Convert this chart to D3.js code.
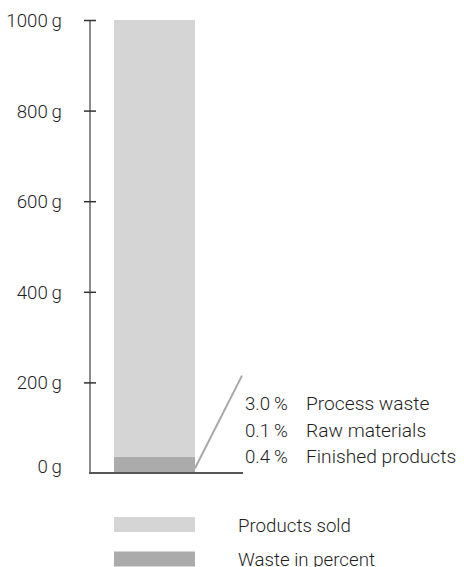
<!DOCTYPE html>
<html>
<head>
<meta charset="utf-8">
<script src="https://cdn.jsdelivr.net/npm/d3@7"></script>
<style>
  html, body { margin: 0; padding: 0; background: #fff; }
  svg { display: block; font-family: Roboto, "Noto Sans", sans-serif; font-weight: 300; }
</style>
</head>
<body>
<svg id="chart" width="464" height="567"></svg>
<script>
// Mass balance of 1000 g of product: what is sold and what is wasted
const yTicks = [0, 200, 400, 600, 800, 1000];
const tickLabels = ["0\u2009g", "200\u2009g", "400\u2009g", "600\u2009g", "800\u2009g", "1000\u2009g"];
const totalGrams = 1000;
const wasteCategories = ["Process waste", "Raw materials", "Finished products"];
const wastePercent = [3.0, 0.1, 0.4];
const percentLabels = ["3.0\u2009%", "0.1\u2009%", "0.4\u2009%"];
const legendLabels = ["Products sold", "Waste in percent"];

const colSold = "#d5d5d5";
const colWaste = "#ababab";
const textCol = "#1e1e1e";
const fontSize = 18.7;

const svg = d3.select("#chart");

const y = d3.scaleLinear().domain([0, totalGrams]).range([473, 20]);
const x = d3.scaleBand().domain(["total"]).range([114, 195]).padding(0);
const axisX = 90;
const baselineEnd = 243;

// stacked segments: waste categories at the bottom, products sold on top
const wasteGrams = wastePercent.map(p => p / 100 * totalGrams);
const wasteTotal = d3.sum(wasteGrams);
const segments = [];
let acc = 0;
wasteCategories.forEach((c, i) => {
  segments.push({ name: c, y0: acc, y1: acc + wasteGrams[i], color: colWaste });
  acc += wasteGrams[i];
});
segments.push({ name: legendLabels[0], y0: acc, y1: totalGrams, color: colSold });

svg.append("g").attr("shape-rendering", "crispEdges").selectAll("rect")
  .data(segments)
  .join("rect")
  .attr("x", x("total"))
  .attr("width", x.bandwidth())
  .attr("y", d => y(d.y1))
  .attr("height", d => y(d.y0) - y(d.y1))
  .attr("fill", d => d.color);

// vertical axis
const axis = d3.axisLeft(y).tickValues(yTicks)
  .tickFormat((d, i) => tickLabels[i]).tickSize(6).tickPadding(0);
const gAxis = svg.append("g").attr("transform", `translate(${axisX},0)`).call(axis);
gAxis.attr("font-family", null).attr("font-size", null);
gAxis.select(".domain").remove();
gAxis.insert("line", ":first-child")
  .attr("x1", 0).attr("x2", 0)
  .attr("y1", y(totalGrams)).attr("y2", y(0))
  .attr("stroke", "#8c8c8c").attr("stroke-width", 2);
gAxis.selectAll(".tick line")
  .attr("x1", -6).attr("x2", 6)
  .attr("stroke", "#333").attr("stroke-width", 1.5)
  .attr("display", d => d === 0 ? "none" : null);
gAxis.selectAll(".tick text")
  .attr("x", -28)
  .attr("dy", d => d === 0 ? "-0.02em" : "0.35em")
  .attr("fill", textCol)
  .attr("font-size", fontSize);

// baseline
svg.append("line")
  .attr("x1", axisX - 1).attr("x2", baselineEnd)
  .attr("y1", y(0)).attr("y2", y(0))
  .attr("stroke", "#555").attr("stroke-width", 2);

// leader from the waste segment to the breakdown
svg.append("line")
  .attr("x1", x("total") + x.bandwidth()).attr("y1", y(wasteTotal * 0.3))
  .attr("x2", 242).attr("y2", y(215))
  .attr("stroke", "#a8a8a8").attr("stroke-width", 2);

// waste breakdown
const rows = svg.append("g").selectAll("g")
  .data(wasteCategories)
  .join("g")
  .attr("transform", (d, i) => `translate(0,${410 + i * 26.5})`);
rows.append("text").attr("x", 245).text((d, i) => percentLabels[i])
  .attr("fill", textCol).attr("font-size", fontSize);
rows.append("text").attr("x", 306).text(d => d)
  .attr("fill", textCol).attr("font-size", 19.2);

// legend
const legend = svg.append("g").selectAll("g")
  .data(legendLabels)
  .join("g")
  .attr("transform", (d, i) => `translate(0,${517 + i * 34.5})`);
legend.append("rect")
  .attr("x", 114).attr("width", 81).attr("height", 15)
  .attr("fill", (d, i) => i === 0 ? colSold : colWaste);
legend.append("text").attr("x", 238).attr("y", 14.5).text(d => d)
  .attr("fill", textCol).attr("font-size", fontSize);
</script>
</body>
</html>
